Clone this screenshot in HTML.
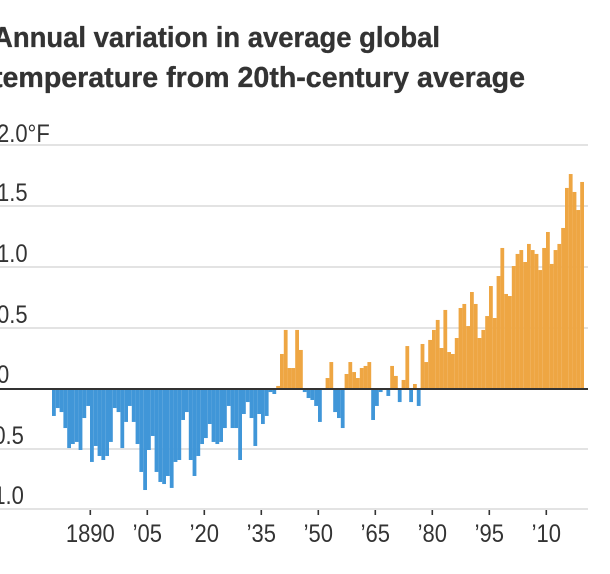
<!DOCTYPE html>
<html lang="en">
<head>
<meta charset="utf-8">
<title>Annual variation in average global temperature</title>
<style>
html,body{margin:0;padding:0;background:#fff;width:610px;height:574px;overflow:hidden}
svg{display:block;font-family:"Liberation Sans",sans-serif}
.title{font-weight:700;font-size:29px;fill:#333;stroke:#333;stroke-width:0.35px}
.lbl{font-size:25px;fill:#333}
</style>
</head>
<body>
<svg id="chart" xmlns="http://www.w3.org/2000/svg" width="610" height="574" viewBox="0 0 610 574">
  <rect x="0" y="0" width="610" height="574" fill="#fff"/>
  <text class="title" x="-7" y="47" textLength="447" lengthAdjust="spacingAndGlyphs">Annual variation in average global</text>
  <text class="title" x="-7" y="87" textLength="532" lengthAdjust="spacingAndGlyphs">temperature from 20th-century average</text>
  <g id="grid"></g>
  <g id="ylabels"></g>
  <g id="bars"></g>
  <g id="axis"></g>
</svg>
<script>
const firstYear = 1880;
const anomalies = [
-0.221,-0.156,-0.189,-0.32,-0.484,-0.451,-0.434,-0.5,-0.238,-0.139,
-0.598,-0.467,-0.549,-0.582,-0.549,-0.434,-0.156,-0.189,-0.484,-0.27,
-0.139,-0.27,-0.451,-0.68,-0.828,-0.5,-0.385,-0.68,-0.762,-0.779,
-0.713,-0.811,-0.598,-0.582,-0.254,-0.189,-0.582,-0.713,-0.549,-0.451,
-0.402,-0.287,-0.434,-0.451,-0.434,-0.32,-0.139,-0.32,-0.32,-0.582,
-0.205,-0.107,-0.238,-0.467,-0.205,-0.287,-0.221,-0.025,-0.041,0.025,
0.287,0.484,0.172,0.172,0.484,0.32,-0.025,-0.074,-0.09,-0.139,
-0.27,0,0.09,0.221,-0.189,-0.238,-0.32,0.123,0.221,0.139,
0.09,0.172,0.189,0.221,-0.254,-0.139,-0.025,0,-0.057,0.189,
0.107,-0.107,0.074,0.352,-0.107,0.041,-0.139,0.369,0.221,0.402,
0.484,0.566,0.336,0.648,0.303,0.287,0.418,0.664,0.697,0.516,
0.795,0.697,0.418,0.484,0.598,0.844,0.582,0.926,1.156,0.779,
0.762,1.008,1.107,1.139,1.041,1.189,1.139,1.107,0.975,1.156,
1.287,1.025,1.139,1.189,1.32,1.648,1.762,1.615,1.467,1.697
];
const gridValues = [2, 1.5, 1, 0.5, -0.5, -1];
const gridLabels = ["2.0°F", "1.5", "1.0", "0.5", "-0.5", "-1.0"];
const zeroLabel = "0";
const tickYears = [1890, 1905, 1920, 1935, 1950, 1965, 1980, 1995, 2010];
const tickLabels = ["1890", "’05", "’20", "’35", "’50", "’65", "’80", "’95", "’10"];

const NS = "http://www.w3.org/2000/svg";
const xScale = function (year) { return 52 + (year - firstYear) * 3.8; };
const yScale = function (v) { return 389 - 122 * v; };
const gridScale = function (v) { return v >= 0 ? 389 - 122 * v : 389 - 120 * v; };
const bandWidth = 3.8;

function make(tag, parent, attrs) {
  const el = document.createElementNS(NS, tag);
  Object.keys(attrs).forEach(function (k) { el.setAttribute(k, attrs[k]); });
  parent.appendChild(el);
  return el;
}

const gridG = document.getElementById("grid");
const labelG = document.getElementById("ylabels");
const barsG = document.getElementById("bars");
const axisG = document.getElementById("axis");

gridValues.forEach(function (v, i) {
  const line = make("line", gridG, {x1: 0, x2: 588, y1: gridScale(v), y2: gridScale(v), stroke: "#e3e3e3", "stroke-width": 2});
  
  
  const startX = v < 0 ? -14 : -3;
  const t = make("text", labelG, {"class": "lbl", transform: "translate(" + startX + " " + (gridScale(v) - (v === 2 ? 3 : 5)) + ") scale(0.88 1)"});
  t.textContent = gridLabels[i];
  
  
});

const zeroText = make("text", labelG, {"class": "lbl", transform: "translate(-3 " + (yScale(0) - 6) + ") scale(0.88 1)"});
zeroText.textContent = zeroLabel;



anomalies.forEach(function (v, i) {
  if (v === 0) return;
  const top = Math.min(yScale(v), yScale(0));
  const rect = make("rect", barsG, {
    x: xScale(firstYear + i), y: top, width: bandWidth,
    height: Math.abs(yScale(v) - yScale(0)),
    fill: v > 0 ? "#eea643" : "#4096d8"
  });
  
  
});

const baseLine = make("line", axisG, {x1: 0, x2: 588, y1: yScale(0), y2: yScale(0), stroke: "#333", "stroke-width": 2});



const bottomY = gridScale(-1);
tickYears.forEach(function (yr, i) {
  const x = xScale(yr) + 0.3;
  const tick = make("line", axisG, {x1: x, x2: x, y1: bottomY + 1, y2: bottomY + 6, stroke: "#333", "stroke-width": 1.6});
  
  
  const t = make("text", axisG, {"class": "lbl", "text-anchor": "middle", transform: "translate(" + x + " 542) scale(0.88 1)"});
  t.textContent = tickLabels[i];
  
  
});
</script>
</body>
</html>
